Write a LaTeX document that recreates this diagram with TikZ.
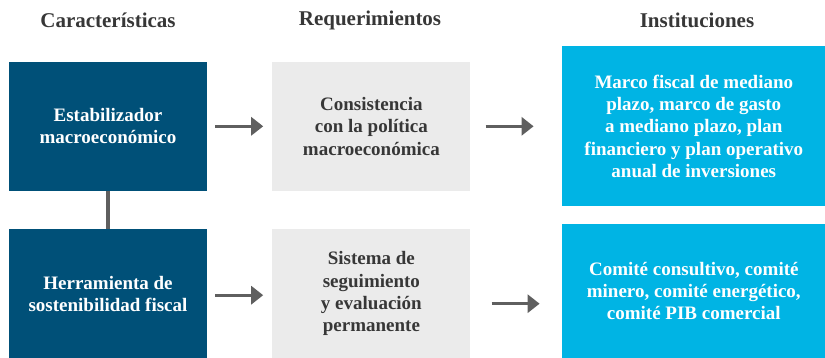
\documentclass[tikz,border=0pt]{standalone}
\usepackage{fontspec}
\setmainfont{Liberation Serif}
\usepackage{tikz}
\usetikzlibrary{arrows.meta, positioning}
\definecolor{cepblue}{RGB}{0,80,120}
\definecolor{cepgray}{RGB}{235,235,235}
\definecolor{cepcyan}{RGB}{0,180,228}
\definecolor{ceparrow}{RGB}{95,95,95}
\definecolor{ceptext}{RGB}{55,55,55}
\tikzset{
  header/.style={font=\fontsize{21}{25}\selectfont\bfseries, text=ceptext},
  charbox/.style={rectangle, fill=cepblue, text=white, inner sep=0pt,
                  minimum width=198pt, minimum height=128.7pt, align=center,
                  font=\fontsize{19}{22.3}\selectfont\bfseries},
  reqbox/.style={rectangle, fill=cepgray, text=ceptext, inner sep=0pt,
                 minimum width=198pt, minimum height=128.7pt, align=center,
                 font=\fontsize{19}{22.3}\selectfont\bfseries},
  instbox/.style={rectangle, fill=cepcyan, text=white, inner sep=0pt,
                  minimum width=264pt, minimum height=#1, align=center,
                  font=\fontsize{19}{22.3}\selectfont\bfseries},
  arrow/.style={-{Triangle[length=12pt, width=18pt]}, line width=3pt, color=ceparrow},
  link/.style={line width=4pt, color=ceparrow},
}
\begin{document}
\begin{tikzpicture}[x=1pt, y=-1pt]
  \useasboundingbox (0,0) rectangle (825,358);
  % column titles
  \node[header] (hcar) at (108,20) {Características};
  \node[header] (hreq) at (370,20) {Requerimientos};
  \node[header] (hinst) at (697,20) {Instituciones};
  % boxes
  \node[charbox] (car1) at (108,126.3) {Estabilizador\\macroeconómico};
  \node[reqbox, right=65pt of car1] (req1) {Consistencia\\con la política\\macroeconómica};
  \node[instbox=160pt, right=91pt of req1] (inst1) {Marco fiscal de mediano\\plazo, marco de gasto\\a mediano plazo, plan\\financiero y plan operativo\\anual de inversiones};
  \node[charbox, below=38.3pt of car1] (car2) {Herramienta de\\sostenibilidad fiscal};
  \node[reqbox, right=65pt of car2] (req2) {Sistema de\\seguimiento\\y evaluación\\permanente};
  \node[instbox=134pt, below=17.3pt of inst1] (inst2) {Comité consultivo, comité\\minero, comité energético,\\comité PIB comercial};
  % connectors
  \draw[link] (car1) -- (car2);
  \draw[arrow, shorten <=8pt, shorten >=9pt] (car1) -- (req1);
  \draw[arrow, shorten <=15pt, shorten >=28pt] (req1.east) -- (req1.east -| inst1.west);
  \draw[arrow, shorten <=8pt, shorten >=9pt] ([yshift=-1.5pt]car2.east) -- ([yshift=-1.5pt]req2.west);
  \draw[arrow, shorten <=21pt, shorten >=22pt] ([yshift=-10pt]req2.east) -- ([yshift=-10pt]req2.east -| inst2.west);
\end{tikzpicture}
\end{document}
